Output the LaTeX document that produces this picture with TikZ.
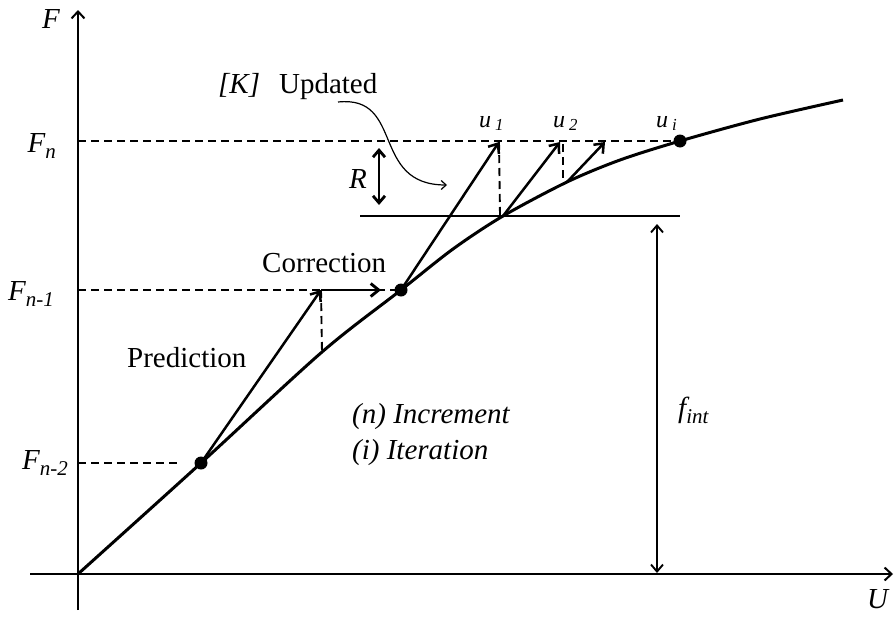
\documentclass[tikz,border=0pt]{standalone}
\usepackage{fontspec}
\setmainfont{Liberation Serif}
\usetikzlibrary{arrows.meta}
\newcommand{\sbs}[1]{\raisebox{-0.22em}{\fontsize{21}{24}\selectfont #1}}
\begin{document}
\begin{tikzpicture}[x=1pt,y=-1pt,
  txt/.style={font=\fontsize{29}{34}\selectfont, inner sep=0pt, anchor=base west},
  itxt/.style={font=\fontsize{29}{34}\selectfont\itshape, inner sep=0pt, anchor=base west},
  utxt/.style={font=\fontsize{24}{28}\selectfont\itshape, inner sep=0pt, anchor=base west},
  axisline/.style={line width=2pt, -{Straight Barb[length=7pt,width=13pt]}},
  curveline/.style={line width=3pt},
  vec/.style={line width=2.5pt, -{Straight Barb[length=8pt,width=13pt]}},
  dashline/.style={line width=1.9pt, dash pattern=on 8pt off 5pt},
  dot/.style={circle, fill=black, inner sep=0pt, minimum size=13pt},
  dimarrow/.style={line width=1.9pt, {Straight Barb[length=7pt,width=12pt]}-{Straight Barb[length=7pt,width=12pt]}},
]
\useasboundingbox (0,0) rectangle (894,624);
% axes
\coordinate (O) at (78,574);
\coordinate (ytop) at (78,10);
\coordinate (ybot) at (78,610);
\coordinate (xl) at (30,574);
\coordinate (xr) at (893,574);
\draw[axisline] (ybot) -- (ytop);
\draw[axisline] (xl) -- (xr);
% key points on curve
\coordinate (p1) at (201,463);
\coordinate (c1) at (322,352);
\coordinate (p2) at (401,290);
\coordinate (c2) at (503,216);
\coordinate (c3) at (567,182);
\coordinate (p3) at (680,141);
\coordinate (pend) at (843,100);
\draw[curveline] plot[smooth, tension=0.5] coordinates {(78,574) (201,463) (322,352) (401,290) (453,249) (503,216) (567,182) (620,160) (680,141) (760,119) (843,100)};
% dashed levels
\coordinate (yn) at (78,141);
\coordinate (yn1) at (78,290);
\coordinate (yn2) at (78,463);
\coordinate (yn2e) at (181,463);
\draw[dashline] (yn) -- (p3);
\draw[dashline] (yn1) -- (p2);
\draw[dashline] (yn2) -- (yn2e);
% prediction / correction
\coordinate (pt1) at (321,290);
\coordinate (ct1) at (381,290);
\draw[vec] (p1) -- (pt1);
\draw[vec, line width=2.9pt] (pt1) -- (ct1);
\draw[dashline] (pt1) -- (c1);
% iterations
\coordinate (t1) at (499,142);
\coordinate (t2) at (560,142);
\coordinate (t3) at (605,142);
\coordinate (b1) at (500,215);
\coordinate (b2t) at (563,144);
\coordinate (b2) at (563,178);
\draw[vec] (p2) -- (t1);
\draw[vec] (c2) -- (t2);
\draw[vec] (c3) -- (t3);
\draw[dashline] (t1) -- (b1);
\draw[dashline] (b2t) -- (b2);
% residual level line
\coordinate (hl) at (360,216);
\coordinate (hr) at (680,216);
\draw[line width=1.9pt] (hl) -- (hr);
% R arrow
\coordinate (ra) at (379,148);
\coordinate (rb) at (379,205);
\draw[dimarrow, line width=2.8pt] (ra) -- (rb);
% f_int arrow
\coordinate (fa) at (657,224);
\coordinate (fb) at (657,573);
\draw[dimarrow] (fa) -- (fb);
% curved annotation arrow
\coordinate (ka) at (338,102);
\coordinate (kb) at (447,185);
\draw[line width=1.2pt, -{Straight Barb[length=5pt,width=9pt]}] (ka) .. controls (405,95) and (370,185) .. (kb);
% dots
\node[dot] (d1) at (p1) {};
\node[dot] (d2) at (p2) {};
\node[dot] (d3) at (p3) {};
% labels
\node[itxt] (lF) at (42,28) {F};
\node[itxt, anchor=base east] (lFn) at (56,152) {F\sbs{n}};
\node[itxt, anchor=base east] (lFn1) at (54,300) {F\sbs{n-1}};
\node[itxt, anchor=base east] (lFn2) at (68,469) {F\sbs{n-2}};
\node[txt] (lK) at (218,93) {\textit{[K]}\hspace{19pt}Updated};
\node[txt] (lC) at (262,272) {Correction};
\node[txt] (lP) at (127,367) {Prediction};
\node[itxt] (lR) at (349,188) {R};
\node[utxt] (lu1) at (479,127) {u\,\textsubscript{1}};
\node[utxt] (lu2) at (553,127) {u\,\textsubscript{2}};
\node[utxt] (lui) at (656,127) {u\,\textsubscript{i}};
\node[itxt] (lInc) at (352,423) {(n) Increment};
\node[itxt] (lIt) at (352,459) {(i) Iteration};
\node[itxt] (lf) at (678,417) {f\sbs{int}};
\node[itxt] (lU) at (867,608) {U};
\end{tikzpicture}
\end{document}
